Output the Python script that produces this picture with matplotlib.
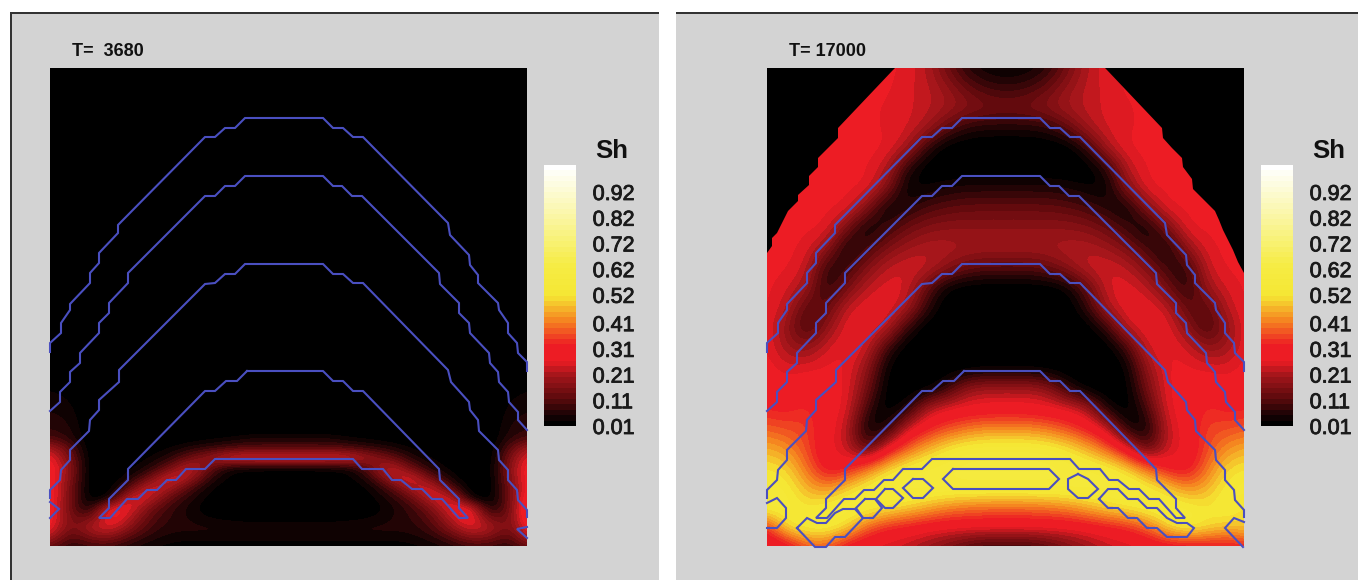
import numpy as np
import matplotlib
matplotlib.use("Agg")
import matplotlib.pyplot as plt
import matplotlib.patheffects as pe
from matplotlib.colors import LinearSegmentedColormap, Normalize
from matplotlib.cm import ScalarMappable
from matplotlib.patches import Rectangle

plt.rcParams['font.family'] = ['Liberation Sans', 'DejaVu Sans']

W, H = 1358, 580

# saturation Sh x 100, columns every 20 units, rows every 20 units (T=17000)
sh_17000 = [
    [27,27,27,27,27,27,27,26,22,14,6,3,2,3,6,14,22,26,27,27,27,27,27,27,27],
    [27,27,27,27,27,27,27,25,23,19,13,9,8,9,13,19,23,25,27,27,27,27,27,27,27],
    [27,27,27,27,27,27,26,25,23,21,18,16,15,16,18,21,23,25,26,27,27,27,27,27,27],
    [27,27,27,27,27,27,26,25,21,12,6,5,5,5,6,12,21,25,26,27,27,27,27,27,27],
    [27,27,27,27,27,27,27,22,7,0,0,0,0,0,0,0,7,22,27,27,27,27,27,27,27],
    [27,27,27,27,27,27,23,6,0,0,0,0,0,0,0,0,0,6,23,27,27,27,27,27,27],
    [27,27,27,27,27,27,17,2,3,5,6,6,6,6,6,5,3,2,17,27,27,27,27,27,27],
    [27,27,27,27,27,17,2,6,10,12,13,13,13,13,13,12,10,6,2,17,27,27,27,27,27],
    [27,27,27,27,15,2,8,14,17,18,18,18,18,18,18,18,17,14,8,2,15,27,27,27,27],
    [27,27,26,19,3,9,16,20,22,22,21,21,21,21,21,22,22,20,16,9,3,19,26,27,27],
    [27,27,24,6,8,17,23,25,24,18,13,11,11,11,13,18,24,25,23,17,8,6,24,27,27],
    [27,25,20,5,15,23,26,25,12,2,0,0,0,0,0,2,12,25,26,23,15,5,20,25,27],
    [27,23,10,12,24,27,27,22,7,0,0,0,0,0,0,0,7,22,27,27,24,12,10,23,27],
    [27,18,8,18,27,27,24,7,0,0,0,0,0,0,0,0,0,7,24,27,27,18,8,18,27],
    [27,20,18,25,27,25,8,0,0,0,0,0,0,0,0,0,0,0,8,25,27,25,18,20,27],
    [28,25,26,27,27,19,2,0,0,0,0,1,1,1,0,0,0,0,2,19,27,27,26,25,28],
    [29,28,30,28,27,15,1,0,0,7,19,21,21,21,19,7,0,0,1,15,27,28,30,28,29],
    [32,31,34,28,27,9,0,4,22,26,27,28,28,28,27,26,22,4,0,9,27,28,34,31,32],
    [38,36,36,28,24,2,4,24,31,36,40,42,42,42,40,36,31,24,4,2,24,28,36,36,38],
    [46,43,36,27,24,8,27,38,46,52,55,56,56,56,55,52,46,38,27,8,24,27,36,43,46],
    [52,50,40,28,30,40,50,55,57,58,60,60,60,60,60,58,57,55,50,40,30,28,40,50,52],
    [56,54,46,42,50,55,58,58,58,58,58,58,58,58,58,58,58,58,58,55,50,42,46,54,56],
    [56,56,52,56,57,56,53,50,46,42,40,39,39,39,40,42,46,50,53,56,57,56,52,56,50],
    [32,52,56,56,50,38,32,30,28,27,27,27,27,27,27,27,28,30,32,38,50,56,52,48,50],
    [24,25,35,36,27,25,24,22,18,14,9,6,6,6,9,14,18,22,24,25,26,26,27,28,30],
]

# T=3680, rows every 10 units starting at 300; everything above is zero
sh_3680_top_rows = 30
sh_3680 = [
    [0,0,0,0,0,0,0,0,0,0,0,0,0,0,0,0,0,0,0,0,0,0,0,0,0],
    [1,0,0,0,0,0,0,0,0,0,0,0,0,0,0,0,0,0,0,0,0,0,0,0,1],
    [3,2,0,0,0,0,0,0,0,0,0,0,0,0,0,0,0,0,0,0,0,0,0,2,3],
    [4,3,0,0,0,0,0,0,0,0,0,0,0,0,0,0,0,0,0,0,0,0,0,3,4],
    [5,4,0,0,0,0,0,0,0,0,0,0,0,0,0,0,0,0,0,0,0,0,0,4,5],
    [6,5,0,0,0,0,0,0,0,0,0,0,0,0,0,0,0,0,0,0,0,0,0,5,6],
    [7,6,0,0,0,0,0,0,0,0,0,0,0,0,0,0,0,0,0,0,0,0,0,6,7],
    [10,7,0,0,0,0,0,1,2,3,5,5,5,5,5,3,2,1,0,0,0,0,0,7,10],
    [22,12,0,0,0,1,3,6,8,10,11,11,11,11,11,10,8,6,3,1,0,0,0,12,22],
    [28,16,0,0,1,3,7,14,20,27,29,29,29,29,29,27,20,14,7,3,1,0,0,16,28],
    [31,18,0,0,2,6,14,26,13,4,3,3,3,3,3,4,13,26,14,6,2,0,0,18,31],
    [31,17,0,0,5,14,28,21,7,2,1,0,0,0,1,2,7,21,28,14,5,0,0,17,31],
    [31,15,0,1,12,27,21,10,3,1,0,0,0,0,0,1,3,10,21,27,12,1,0,15,31],
    [31,15,0,3,28,24,12,6,2,0,0,0,0,0,0,0,2,6,12,24,28,3,0,15,33],
    [31,14,2,30,27,15,8,4,1,0,0,0,0,0,0,0,1,4,8,15,27,30,2,14,38],
    [31,14,13,31,22,11,7,5,3,2,1,1,1,1,1,2,3,5,7,11,22,31,13,14,36],
    [29,13,22,26,17,9,6,6,6,6,6,6,6,6,6,6,6,6,6,9,17,26,22,13,31],
    [22,9,15,17,10,6,4,4,4,4,4,4,4,4,4,4,4,4,4,6,10,17,15,9,24],
    [12,6,8,8,5,3,2,1,1,1,1,1,1,1,1,1,1,1,2,3,5,8,8,6,12],
]

# interfaces, shared by both panels (x, depth)
layer1_x = [0,0,11,11,20,20,40,40,49,49,68,68,155,165,175,185,195,273,283,293,303,313,398,400,419,420,428,428,448,449,458,458,467,468,477,477]
layer1_y = [284,275,265,255,242,236,215,205,195,185,165,157,69,69,60,60,50,50,60,60,69,69,155,167,187,197,207,215,235,242,255,265,275,285,294,303]
layer2_x = [0,10,10,20,20,30,30,49,49,59,59,78,78,155,165,175,185,195,273,283,292,302,312,389,390,409,409,419,420,439,440,448,449,458,459,468,468,477]
layer2_y = [343,334,324,314,304,295,285,265,255,245,235,215,205,128,128,118,118,108,108,118,118,128,128,205,216,235,245,255,265,285,295,304,314,324,334,344,352,362]
layer3_x = [0,0,10,11,20,20,39,40,49,49,69,69,155,165,175,185,195,273,283,293,303,313,398,401,419,420,428,429,448,449,458,458,467,468,477,477]
layer3_y = [430,422,412,402,392,382,363,352,342,332,314,302,216,215,206,206,196,196,206,206,215,215,302,314,334,342,352,363,382,392,402,412,422,432,442,449]
layer4_x = [197,187,176,165,155,78,78,59,59,49,60,77,88,97,107,117,126,136,155,165,303,312,333,342,351,362,372,382,392,409,418,409,409,390,389,313,303,293,283,273,197]
layer4_y = [303,313,313,323,323,401,412,431,440,450,450,431,431,422,422,412,412,401,401,391,391,401,401,412,412,421,421,431,431,450,450,440,431,412,401,323,323,313,313,303,303]

# small closed pieces at the side walls, T=3680
edge_a_x = [0,9,0]
edge_a_y = [434,441,450]
edge_b_x = [477,467,477]
edge_b_y = [459,461,470]

# closed Sh=0.52 blobs, T=17000
blobs_17000 = [
    ([186,282,292,282,186,176,186], [401,401,411,421,421,411,401]),
    ([146,156,166,156,146,136,146], [411,411,420,430,430,420,411]),
    ([118,126,136,126,118,109,118], [421,421,430,440,440,431,421]),
    ([98,108,115,106,96,89,98], [431,431,440,450,450,440,431]),
    ([30,40,50,59,68,76,88,96,78,68,59,48,30], [460,450,455,455,445,441,441,450,469,469,479,479,460]),
    ([311,321,331,321,311,301,301,311], [406,411,421,430,430,421,411,406]),
    ([332,341,351,361,371,380,390,400,410,420,427,420,400,390,380,370,361,351,341,332],
     [431,421,421,431,431,440,440,450,455,455,460,469,469,460,460,450,450,440,440,431]),
    ([0,10,19,19,10,0], [435,430,440,450,460,460]),
    ([477,467,458,476], [454,450,460,479]),
]

# unsaturated corners outside the plume, T=17000
corner_left_x = [0,0,5,5,10,13,17,21,31,31,42,42,51,51,61,71,71,126,128,0]
corner_left_y = [0,185,178,170,165,159,151,143,133,127,117,108,99,90,80,70,60,2,0,0]
corner_right_x = [477,477,471,466,461,456,452,448,437,426,425,416,415,405,396,395,340,338,477]
corner_right_y = [0,205,194,182,172,162,152,143,132,121,111,99,90,80,70,60,2,0,0]

cbar_ticks = [0.01, 0.11, 0.21, 0.31, 0.41, 0.52, 0.62, 0.72, 0.82, 0.92]

# colour ramp of the legend
sh_cmap = LinearSegmentedColormap.from_list("sh", [
    (0.0, "#000000"),
    (0.03, "#160304"),
    (0.10, "#5e0a0d"),
    (0.19, "#a5161b"),
    (0.245, "#ed1c24"),
    (0.305, "#ed1c24"),
    (0.40, "#f58220"),
    (0.50, "#f5e733"),
    (0.62, "#f6ec45"),
    (0.80, "#faf6a0"),
    (1.0, "#ffffff"),
], N=48)
norm = Normalize(vmin=0.01, vmax=1.025)

GREY = "#d3d3d3"
LINE = "#4a4fc0"
FRAME = "#333333"


def px_axes(fig, x0, y0, x1, y1):
    return fig.add_axes([x0 / W, 1 - y1 / H, (x1 - x0) / W, (y1 - y0) / H])


def plate(fig, x, y, w, h, color):
    fig.add_artist(Rectangle((x / W, 1 - (y + h) / H), w / W, h / H, transform=fig.transFigure,
                             fc=color, ec="none", zorder=-5))


def draw_layers(ax, pieces):
    for xs, ys in pieces:
        ax.plot(xs, ys, color=LINE, lw=1.5, solid_joinstyle="miter", clip_on=False)


def draw_panel(fig, x0, title, field, extent, pieces, corners):
    ax = px_axes(fig, x0, 68, x0 + 477, 546)
    ax.imshow(field, cmap=sh_cmap, norm=norm, extent=extent, aspect="auto",
              interpolation="bicubic", interpolation_stage="data")
    for xs, ys in corners:
        ax.fill(xs, ys, color="black", lw=0)
    draw_layers(ax, pieces)
    ax.set_xlim(0, 477)
    ax.set_ylim(478, 0)
    ax.axis("off")
    fig.text((x0 + 22) / W, 1 - 51 / H, title, fontsize=13, fontweight="bold",
             va="center", color="#111111")
    cax = px_axes(fig, x0 + 494, 165, x0 + 526, 426)
    cb = fig.colorbar(ScalarMappable(norm=norm, cmap=sh_cmap), cax=cax, ticks=cbar_ticks)
    cb.outline.set_visible(False)
    cb.ax.set_yticklabels(["%.2f" % t for t in cbar_ticks], fontsize=15.5, color="#1a1a1a")
    cb.ax.tick_params(length=0, pad=12)
    for label in cb.ax.get_yticklabels():
        label.set_path_effects([pe.withStroke(linewidth=0.6, foreground="#1a1a1a")])
    fig.text((x0 + 545) / W, 1 - 151 / H, "Sh", fontsize=18.5, fontweight="bold",
             va="center", color="#111111")


fig = plt.figure(figsize=(W / 100, H / 100), dpi=100, facecolor="white")

# grey plates with dark edge
plate(fig, 10, 12, 649, 568, GREY)
plate(fig, 676, 12, 682, 568, GREY)
plate(fig, 10, 12, 649, 2, FRAME)
plate(fig, 676, 12, 682, 2, FRAME)
plate(fig, 10, 12, 2, 568, FRAME)

layers = [(layer1_x, layer1_y), (layer2_x, layer2_y), (layer3_x, layer3_y), (layer4_x, layer4_y)]

field_3680 = np.vstack([np.zeros((sh_3680_top_rows, 25)), np.array(sh_3680)]) / 100.0
field_17000 = np.array(sh_17000) / 100.0

draw_panel(fig, 50, "T=  3680", field_3680, (-10, 490, 485, -5),
           layers + [(edge_a_x, edge_a_y), (edge_b_x, edge_b_y)], [])
draw_panel(fig, 767, "T= 17000", field_17000, (-10, 490, 490, -10),
           layers + blobs_17000,
           [(corner_left_x, corner_left_y), (corner_right_x, corner_right_y)])

fig.savefig("out.png", dpi=100, facecolor="white")
